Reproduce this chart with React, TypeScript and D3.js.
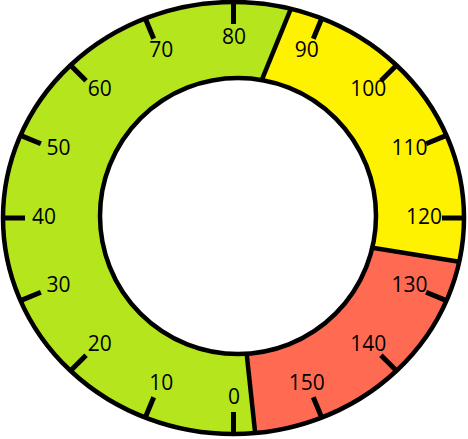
import React, { useRef, useEffect } from 'react';
import * as d3 from 'd3';

// scale of the dial (full turn = 0..160, 0 at the bottom, clockwise)
const scaleMax = 160;
const tickValues = [0, 10, 20, 30, 40, 50, 60, 70, 80, 90, 100, 110, 120, 130, 140, 150];
const tickLabels = ['0', '10', '20', '30', '40', '50', '60', '70', '80', '90', '100', '110', '120', '130', '140', '150'];

// coloured bands: where each band ends on the outer rim and on the inner rim
const bandEndsOuter = [86.4, 125.2, 157.6];
const bandEndsInner = [84.4, 125.9, 158.4];
const bandColors = ['#b5e61d', '#fff200', '#ff6b52'];

const width = 468;
const height = 439;

// ring geometry
const outer = { cx: 233.5, cy: 218, rx: 230.5, ry: 216 };
const inner = { cx: 238, cy: 216, r: 138 };
const labelRing = { cx: 234, cy: 216, rx: 190, ry: 180 };
const tickLen = 22;

export default function App() {
  const svgRef = useRef<SVGSVGElement>(null);

  useEffect(() => {
    if (!svgRef.current) return;
    const svg = d3.select(svgRef.current);
    svg.selectAll('*').remove();

    const angle = d3.scaleLinear().domain([0, scaleMax]).range([0, 2 * Math.PI]);

    const onEllipse = (v: number, cx: number, cy: number, rx: number, ry: number): [number, number] => {
      const a = angle(v);
      return [cx - rx * Math.sin(a), cy + ry * Math.cos(a)];
    };
    const outerPt = (v: number) => onEllipse(v, outer.cx, outer.cy, outer.rx, outer.ry);
    const innerPt = (v: number) => onEllipse(v, inner.cx, inner.cy, inner.r, inner.r);

    const line = d3.line<[number, number]>();
    const sweep = (a: number, b: number) => d3.range(a, b, 0.5).concat([b]);

    // bands (each starts where the previous one ends, wrapping round)
    bandColors.forEach((c, i) => {
      const prev = (i + bandColors.length - 1) % bandColors.length;
      const so = i === 0 ? bandEndsOuter[prev] - scaleMax : bandEndsOuter[prev];
      const si = i === 0 ? bandEndsInner[prev] - scaleMax : bandEndsInner[prev];
      const outerSteps = sweep(so, bandEndsOuter[i]);
      const innerSteps = sweep(si, bandEndsInner[i]).reverse();
      const pts: [number, number][] = outerSteps.map(outerPt).concat(innerSteps.map(innerPt));
      svg.append('path')
        .attr('d', line(pts) + 'Z')
        .attr('fill', c)
        .attr('stroke', 'none');
    });

    // band boundaries
    bandEndsOuter.forEach((v, i) => {
      const [x1, y1] = outerPt(v);
      const [x2, y2] = innerPt(bandEndsInner[i]);
      svg.append('line')
        .attr('x1', x1).attr('y1', y1).attr('x2', x2).attr('y2', y2)
        .attr('stroke', '#000')
        .attr('stroke-width', 4.5);
    });

    // outline
    svg.append('ellipse')
      .attr('cx', outer.cx).attr('cy', outer.cy)
      .attr('rx', outer.rx).attr('ry', outer.ry)
      .attr('fill', 'none')
      .attr('stroke', '#000')
      .attr('stroke-width', 4.5);

    svg.append('circle')
      .attr('cx', inner.cx).attr('cy', inner.cy)
      .attr('r', inner.r)
      .attr('fill', '#fff')
      .attr('stroke', '#000')
      .attr('stroke-width', 4.5);

    // ticks
    svg.selectAll('.tick')
      .data(tickValues)
      .enter()
      .append('line')
      .attr('x1', d => outerPt(d)[0])
      .attr('y1', d => outerPt(d)[1])
      .attr('x2', d => onEllipse(d, outer.cx, outer.cy, outer.rx - tickLen, outer.ry - tickLen)[0])
      .attr('y2', d => onEllipse(d, outer.cx, outer.cy, outer.rx - tickLen, outer.ry - tickLen)[1])
      .attr('stroke', '#000')
      .attr('stroke-width', 5);

    // labels
    svg.selectAll('.label')
      .data(tickValues)
      .enter()
      .append('text')
      .attr('x', d => onEllipse(d, labelRing.cx, labelRing.cy, labelRing.rx, labelRing.ry)[0])
      .attr('y', d => onEllipse(d, labelRing.cx, labelRing.cy, labelRing.rx, labelRing.ry)[1])
      .attr('dy', '0.36em')
      .attr('text-anchor', 'middle')
      .attr('font-family', '"Open Sans", sans-serif')
      .attr('font-size', 21)
      .attr('fill', '#000')
      .text((d, i) => tickLabels[i]);
  }, []);

  return (
    <svg
      ref={svgRef}
      width={width}
      height={height}
      style={{ position: 'absolute', left: 0, top: 0, background: '#fff' }}
    />
  );
}
